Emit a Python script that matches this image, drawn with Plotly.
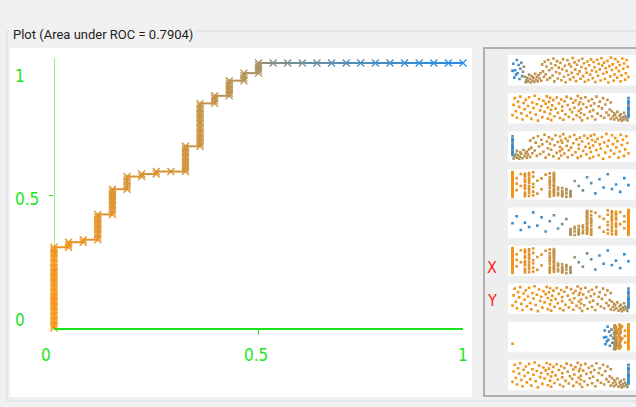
import plotly.graph_objects as go

W, H = 636, 407

# ---------------- data ----------------
N_NEG = 28          # negatives -> FP steps of 1/28
N_POS = 105         # positives
# number of positives gained while FP count = k (k = 0..28)
pos_per_fp = [32, 2, 1, 10, 10, 5, 1, 1, 0, 10, 17, 3, 6, 3, 4,
              0, 0, 0, 0, 0, 0, 0, 0, 0, 0, 0, 0, 0, 0]
# threshold of the negative that creates FP step k (k=0: first point)
fp_thr = [1.00, 0.95, 0.93, 0.92, 0.89, 0.86, 0.85, 0.845, 0.84, 0.835,
          0.80, 0.75, 0.73, 0.70, 0.63, 0.50, 0.42, 0.36, 0.31, 0.27,
          0.23, 0.20, 0.17, 0.14, 0.11, 0.08, 0.05, 0.02, 0.00]
# threshold of the last positive of the run at FP step k
run_end_thr = [0.96, 0.94, 0.925, 0.895, 0.865, 0.855, 0.848, 0.842, 0.84, 0.81,
               0.755, 0.74, 0.705, 0.68, 0.62, 0.50, 0.42, 0.36, 0.31, 0.27,
               0.23, 0.20, 0.17, 0.14, 0.11, 0.08, 0.05, 0.02, 0.00]
# vertical jitter (percent of strip height) of every curve point in the attribute strips
jitter = [27,
          62, 85, 40, 18, 73, 55, 90, 33, 12, 68,
          47, 79, 25, 58, 88, 36, 14, 70, 51, 93,
          29, 64, 8, 82, 43, 57, 20, 76, 38, 66,
          91, 15, 53, 72, 31, 86, 45, 10, 60, 78,
          23, 49, 87, 35, 67, 17, 80, 42, 56, 11,
          74, 30, 89, 61, 21, 46, 83, 37, 69, 13,
          52, 77, 26, 92, 41, 63, 19, 71, 34, 84,
          48, 9, 65, 28, 88, 54, 16, 75, 39, 59,
          22, 81, 44, 67, 12, 90, 32, 57, 73, 24,
          50, 85, 18, 63, 36, 79, 27, 46, 70, 14,
          40, 22, 33, 12, 28, 18, 38, 10, 25, 15,
          30, 8, 20, 35, 12, 24, 17, 9, 28,
          62, 45, 30, 75, 55, 20, 68, 40, 85, 35, 50, 25, 72, 48]

x_tick_vals = [0, 0.5, 1]
x_tick_text = ["0", "0.5", "1"]
y_tick_vals = [1, 0.5, 0]
y_tick_text = ["1", "0.5", "0"]
title_text = "Plot (Area under ROC = 0.7904)"
strip_attrs = ["Instance_number", "True Positives", "False Negatives", "False Positives",
               "True Negatives", "False Positive Rate", "True Positive Rate", "Precision", "Recall"]

# ---------------- build curve points ----------------
fp_list, tp_list, thr_list = [0], [0], [fp_thr[0]]
tp = 0
for k in range(N_NEG + 1):
    if k > 0:
        fp_list.append(k); tp_list.append(tp); thr_list.append(fp_thr[k])
    n = pos_per_fp[k]
    for i in range(n):
        tp += 1
        t = fp_thr[k] + (run_end_thr[k] - fp_thr[k]) * (i + 1) / n
        fp_list.append(k); tp_list.append(tp); thr_list.append(t)

npts = len(fp_list)
fpr = [f / N_NEG for f in fp_list]
tpr = [t / N_POS for t in tp_list]

LOW = (38, 140, 228)
HIGH = (247, 148, 20)


def col(t):
    r = [round(LOW[c] + (HIGH[c] - LOW[c]) * t) for c in range(3)]
    return "rgb(%d,%d,%d)" % tuple(r)


colors = [col(t) for t in thr_list]
GREEN = "#19e619"
Y_TOP = 270 / 265

fig = go.Figure()

# y axis line (bright green, 1px)
fig.add_trace(go.Scatter(x=[0, 0], y=[0, Y_TOP], mode="lines", line=dict(color=GREEN, width=1),
                         hoverinfo="skip", showlegend=False, cliponaxis=False, xaxis="x", yaxis="y"))

# curve segments
for j in range(1, npts):
    fig.add_trace(go.Scatter(x=[fpr[j - 1], fpr[j]], y=[tpr[j - 1], tpr[j]], mode="lines",
                             line=dict(color=colors[j], width=2), hoverinfo="skip",
                             showlegend=False, cliponaxis=False, xaxis="x", yaxis="y"))
# markers
fig.add_trace(go.Scatter(x=fpr, y=tpr, mode="markers",
                         marker=dict(symbol="x-thin-open", size=7, color=colors,
                                     line=dict(color=colors, width=1.3)),
                         showlegend=False, cliponaxis=False, xaxis="x", yaxis="y"))

# attribute strips
inst = [(npts - 1 - j) / (npts - 1) for j in range(npts)]
fn_n = [1 - v for v in tpr]
tn_n = [1 - v for v in fpr]
prec = [(tp_list[j] / (tp_list[j] + fp_list[j])) if (tp_list[j] + fp_list[j]) > 0 else 0
        for j in range(npts)]
strip_vals = [inst, tpr, fn_n, fpr, tn_n, fpr, tpr, prec, tpr]
jy = [v / 100 for v in jitter]


def px(x):
    return x / W


def py(y):
    return 1 - y / H


STRIP_TOP0, STRIP_STEP, STRIP_H = 55, 38.1, 30.5
layout_axes = {}
for s, vals in enumerate(strip_vals):
    idx = s + 2
    fig.add_trace(go.Scatter(x=vals, y=jy, mode="markers",
                             marker=dict(symbol="square", size=2.6, color=colors, line=dict(width=0)),
                             showlegend=False, hoverinfo="skip",
                             xaxis="x%d" % idx, yaxis="y%d" % idx))
    top = STRIP_TOP0 + STRIP_STEP * s
    layout_axes["xaxis%d" % idx] = dict(domain=[px(508), 1], range=[-0.039, 1.065], visible=False,
                                        anchor="y%d" % idx, fixedrange=True)
    layout_axes["yaxis%d" % idx] = dict(domain=[py(top + STRIP_H), py(top)], range=[-0.02, 1.02],
                                        visible=False, anchor="x%d" % idx, fixedrange=True)

BORDER = "#d6dde4"
shapes = [
    dict(type="rect", xref="paper", yref="paper", x0=px(10), x1=px(472), y0=py(397), y1=py(48),
         fillcolor="white", line=dict(width=0), layer="below"),
    dict(type="rect", xref="paper", yref="paper", x0=px(484), x1=px(645), y0=py(396), y1=py(48),
         fillcolor="#eeeeee", line=dict(color="#9c9c9c", width=1.5), layer="below"),
    dict(type="line", xref="paper", yref="paper", x0=px(195), x1=1, y0=py(31), y1=py(31),
         line=dict(color=BORDER, width=1), layer="below"),
    dict(type="line", xref="paper", yref="paper", x0=px(7), x1=px(9), y0=py(31), y1=py(31),
         line=dict(color=BORDER, width=1), layer="below"),
    dict(type="line", xref="paper", yref="paper", x0=px(7), x1=px(7), y0=py(31), y1=py(401),
         line=dict(color=BORDER, width=1), layer="below"),
    dict(type="line", xref="paper", yref="paper", x0=px(7), x1=1, y0=py(401), y1=py(401),
         line=dict(color=BORDER, width=1), layer="below"),
]
for s in range(len(strip_vals)):
    top = STRIP_TOP0 + STRIP_STEP * s
    shapes.append(dict(type="rect", xref="paper", yref="paper", x0=px(508), x1=1,
                       y0=py(top + STRIP_H), y1=py(top), fillcolor="white",
                       line=dict(width=0), layer="below"))

LBL_FONT = dict(family="Liberation Sans Narrow, DejaVu Sans Condensed, Liberation Sans, sans-serif",
                size=17, color=GREEN)
annotations = [
    dict(text=title_text, xref="paper", yref="paper", x=px(11), y=py(35), xanchor="left",
         yanchor="middle", showarrow=False,
         font=dict(family="Roboto, Liberation Sans, Arial, sans-serif", size=13, color="#1e1e1e")),
]
x_shift = [-8, -3, 0]
for v, t, sh in zip(x_tick_vals, x_tick_text, x_shift):
    annotations.append(dict(text=t, xref="x", yref="paper", x=v, y=py(355), xshift=sh,
                            xanchor="center", yanchor="middle", showarrow=False, font=LBL_FONT))
y_shift = [-13, -3, 8]
y_xpos = [20, 27, 20]
for v, t, sh, xp in zip(y_tick_vals, y_tick_text, y_shift, y_xpos):
    annotations.append(dict(text=t, xref="paper", yref="y", x=px(xp), y=v, yshift=sh,
                            xanchor="center", yanchor="middle", showarrow=False, font=LBL_FONT))
for lab, yp in (("X", 267), ("Y", 300)):
    annotations.append(dict(text=lab, xref="paper", yref="paper", x=px(492), y=py(yp),
                            xanchor="center", yanchor="middle", showarrow=False,
                            font=dict(family=LBL_FONT["family"], size=16, color="#ff1a1a")))

fig.update_layout(
    width=W, height=H, margin=dict(l=0, r=0, t=0, b=0),
    paper_bgcolor="#f0f0f0", plot_bgcolor="white",
    xaxis=dict(domain=[px(54), px(463)], range=[0, 1], showgrid=False, zeroline=False,
               showline=True, linecolor=GREEN, linewidth=2, ticks="outside",
               tickvals=[0.5], ticklen=5, tickcolor=GREEN, tickwidth=1,
               showticklabels=False, anchor="y", fixedrange=True),
    yaxis=dict(domain=[py(328), py(58)], range=[0, Y_TOP], showgrid=False, zeroline=False,
               showline=False, ticks="outside",
               tickvals=[0.5], ticklen=4, tickcolor=GREEN, tickwidth=1,
               showticklabels=False, anchor="x", fixedrange=True),
    shapes=shapes, annotations=annotations, showlegend=False,
    **layout_axes,
)

fig.write_html("out.html", config={"displayModeBar": False},
               post_script="document.body.style.margin='0';document.body.style.overflow='hidden';")
